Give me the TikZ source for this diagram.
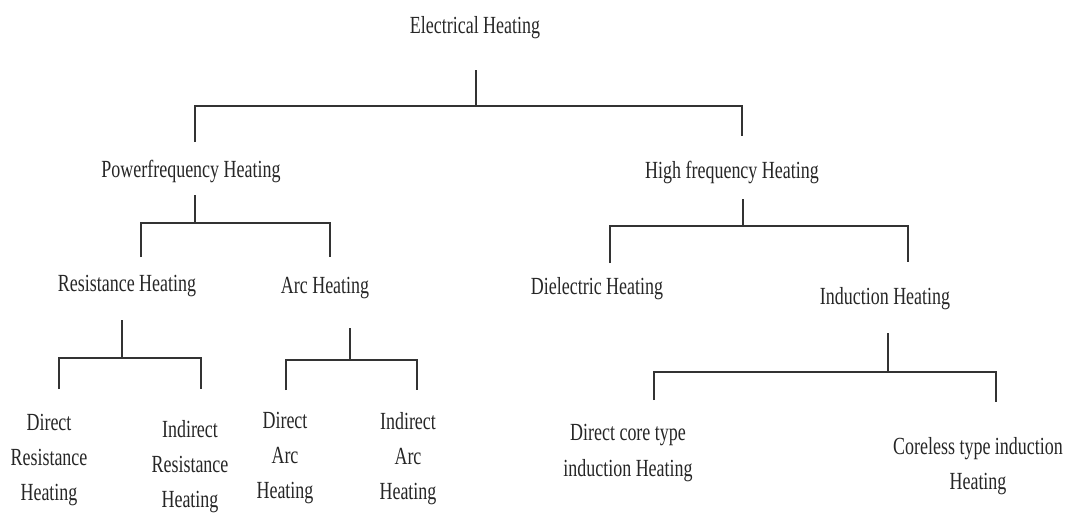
\documentclass[tikz,border=0pt]{standalone}
\usepackage{fontspec}
\setmainfont[FakeStretch=0.73]{Liberation Serif}

\begin{document}
\begin{tikzpicture}[x=0.025cm, y=-0.025cm,
    lbl/.style={inner sep=0pt, align=center, text=black!85,
        font=\fontsize{17.5}{24.9}\selectfont},
    branch/.style={line width=1.1pt, draw=black!80}]
    \useasboundingbox (0,0) rectangle (1072,513);

    % 1. Các nút chữ
    \node[lbl] (elec)   at (475,28)  {Electrical Heating};
    \node[lbl] (power)  at (191,171) {Powerfrequency Heating};
    \node[lbl] (high)   at (732,172) {High frequency Heating};
    \node[lbl] (resist) at (127,286) {Resistance Heating};
    \node[lbl] (arc)    at (325,288) {Arc Heating};
    \node[lbl] (diel)   at (597,289) {Dielectric Heating};
    \node[lbl] (induct) at (885,299) {Induction Heating};
    \node[lbl] (dres)   at (49,460)  {Direct\\Resistance\\Heating};
    \node[lbl] (ires)   at (190,467) {Indirect\\Resistance\\Heating};
    \node[lbl] (darc)   at (285,458) {Direct\\Arc\\Heating};
    \node[lbl] (iarc)   at (408,459) {Indirect\\Arc\\Heating};
    \node[lbl] (dcore)  at (628,453) {Direct core type\\induction Heating};
    \node[lbl] (cless)  at (978,466) {Coreless type induction\\Heating};

    % 2. Điểm nối
    \coordinate (t0) at (476,70);  \coordinate (j0) at (476,106);
    \coordinate (d0a) at (195,142); \coordinate (d0b) at (742,136);
    \coordinate (t1) at (195,195); \coordinate (j1) at (195,223);
    \coordinate (d1a) at (141,257); \coordinate (d1b) at (330,257);
    \coordinate (t2) at (743,199); \coordinate (j2) at (743,226);
    \coordinate (d2a) at (610,263); \coordinate (d2b) at (908,262);
    \coordinate (t3) at (122,320); \coordinate (j3) at (122,358);
    \coordinate (d3a) at (59,389);  \coordinate (d3b) at (201,389);
    \coordinate (t4) at (350,328); \coordinate (j4) at (350,360);
    \coordinate (d4a) at (286,390); \coordinate (d4b) at (417,390);
    \coordinate (t5) at (888,333); \coordinate (j5) at (888,372);
    \coordinate (d5a) at (654,400); \coordinate (d5b) at (996,402);

    % 3. Đường nhánh
    \draw[branch] (t0) -- (j0);
    \draw[branch] (d0a) |- (j0) -| (d0b);
    \draw[branch] (t1) -- (j1);
    \draw[branch] (d1a) |- (j1) -| (d1b);
    \draw[branch] (t2) -- (j2);
    \draw[branch] (d2a) |- (j2) -| (d2b);
    \draw[branch] (t3) -- (j3);
    \draw[branch] (d3a) |- (j3) -| (d3b);
    \draw[branch] (t4) -- (j4);
    \draw[branch] (d4a) |- (j4) -| (d4b);
    \draw[branch] (t5) -- (j5);
    \draw[branch] (d5a) |- (j5) -| (d5b);
\end{tikzpicture}
\end{document}
